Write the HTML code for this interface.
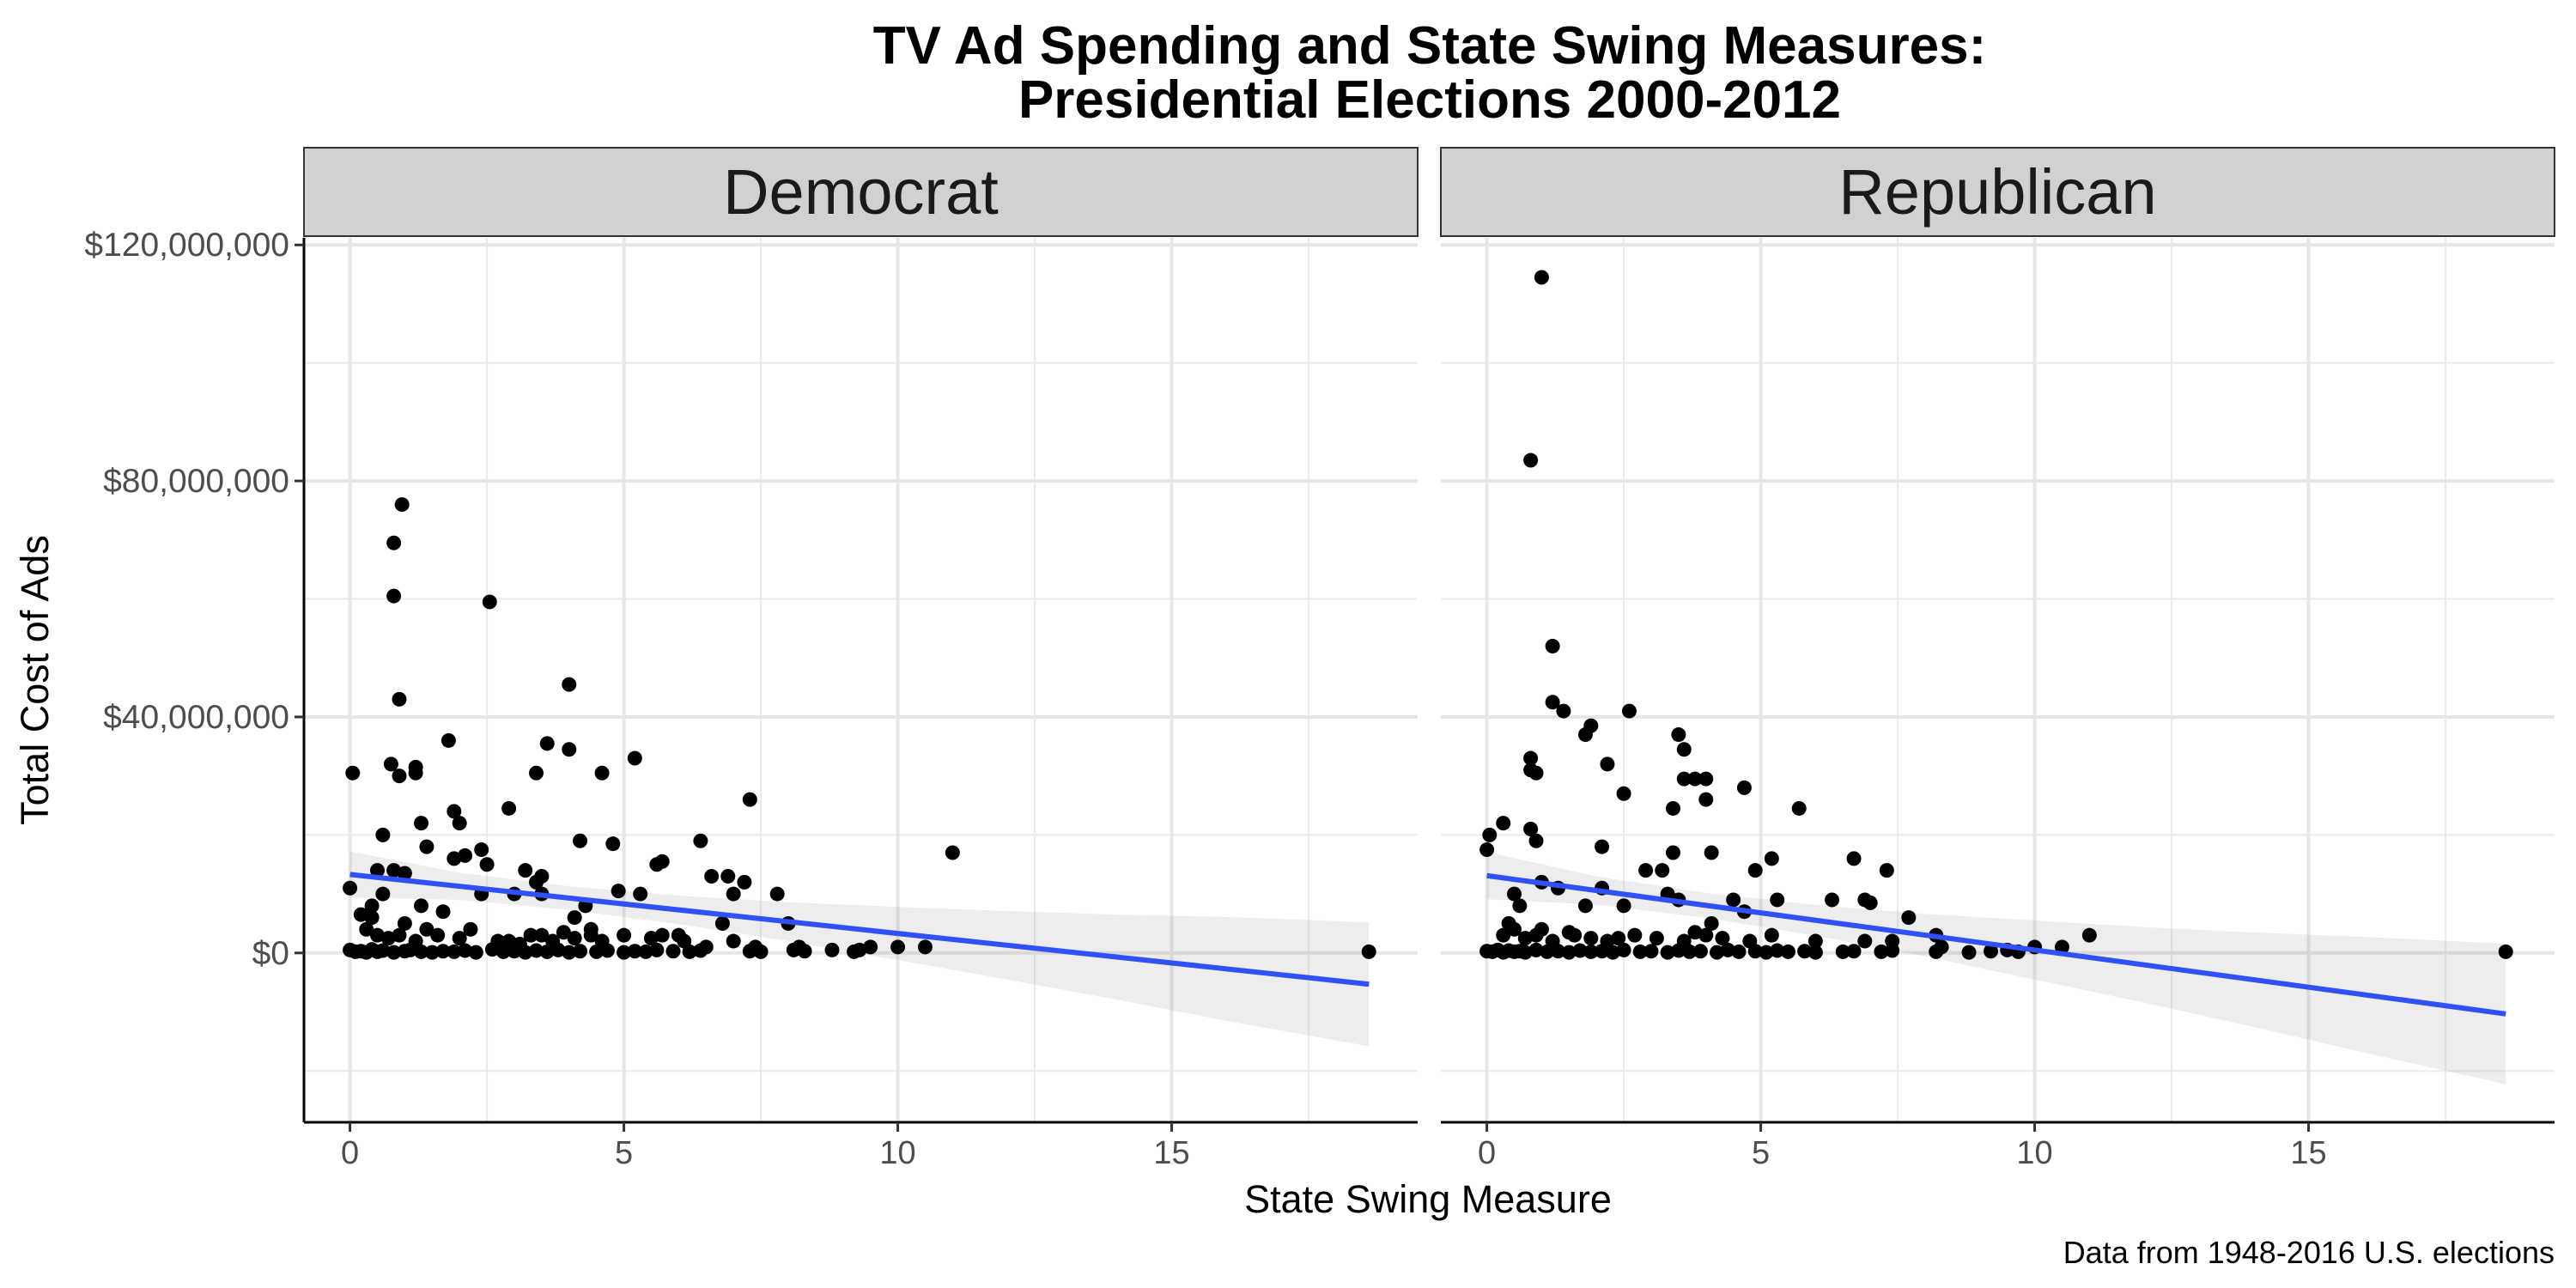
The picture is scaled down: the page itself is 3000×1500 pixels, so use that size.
<!DOCTYPE html>
<html><head><meta charset="utf-8"><style>
html,body{margin:0;padding:0;background:#fff;}
svg{display:block;font-family:"Liberation Sans",Arial,sans-serif;}
</style></head><body>
<svg id="chart" width="3000" height="1500" viewBox="0 0 3000 1500" xmlns="http://www.w3.org/2000/svg">
<rect width="3000" height="1500" fill="#fff"/>
<text x="1665" y="74" font-size="62" font-weight="bold" text-anchor="middle">TV Ad Spending and State Swing Measures:</text>
<text x="1665" y="137" font-size="62" font-weight="bold" text-anchor="middle">Presidential Elections 2000-2012</text>
<text x="1663" y="1412" font-size="45" text-anchor="middle">State Swing Measure</text>
<text transform="translate(56,792) rotate(-90)" font-size="45" text-anchor="middle">Total Cost of Ads</text>
<text x="2975" y="1471" font-size="36" text-anchor="end">Data from 1948-2016 U.S. elections</text>
<g id="plots"></g>
</svg>
<script>
const panelNames = ["Democrat","Republican"];
const xTicks = [0,5,10,15];
const xMinor = [2.5,7.5,12.5,17.5];
const yTicks = [0,40,80,120];
const yMinor = [-20,20,60,100];
const yTickLabels = ["$0","$40,000,000","$80,000,000","$120,000,000"];
// points: swing measure, cost in $M
const demX = [0.95,0.8,0.8,2.55,0.9,4,0.05,1.8,0.75,0.9,1.2,1.2,3.4,3.6,4,4.6,5.2,7.3,11,1.9,2.0,2.9,1.3,0.6,4.2,4.8,6.4,2.4,1.4,7.2,7.8,0.0,1.0,0.8,0.5,1.9,2.1,2.5,3.2,3.5,5.6,5.7,6.6,6.9,7.0,8.0,0.2,0.4,0.6,1.3,1.7,2.4,3.0,3.5,3.4,4.3,4.9,5.3,4.1,4.4,5.7,6.0,6.8,6.5,7.4,8.2,8.8,9.3,9.5,10.0,10.5,18.6,
 0.0,0.1,0.2,0.3,0.4,0.5,0.6,0.8,1.0,1.1,1.3,1.5,1.7,1.9,2.1,2.3,2.6,2.8,3.0,3.2,3.4,3.6,3.8,4.0,4.2,4.5,4.7,5.0,5.2,5.4,5.6,5.9,6.2,6.4,7.3,7.5,8.1,8.3,9.2,
 0.3,0.5,0.7,0.9,1.2,1.6,2.0,2.2,2.7,3.1,3.3,3.7,3.9,4.1,4.6,5.0,5.5,6.1,7.0,0.4,1.0,1.4,2.9,3.5,4.4];
const demY = [76,69.5,60.5,59.5,43,45.5,30.5,36,32,30,31.5,30.5,30.5,35.5,34.5,30.5,33,26,17,24,22,24.5,22,20,19,18.5,19,17.5,18,12,10,11,13.5,14,14,16,16.5,15,14,13,15,15.5,13,13,10,5,6.5,8,10,8,7,10,10,10,12,8,10.5,10,6,3,3,3,5,1,1,1,0.5,0.5,1,1,1,0.2,
 0.5,0.2,0.3,0.1,0.6,0.2,0.4,0.1,0.3,0.5,0.2,0.1,0.3,0.2,0.4,0.1,0.6,0.2,0.3,0.1,0.4,0.2,0.5,0.1,0.3,0.2,0.4,0.1,0.3,0.2,0.5,0.3,0.2,0.4,0.3,0.2,0.5,0.3,0.2,
 4,3,2.5,3,2,3,2.5,4,2,1.5,3,2,3.5,2.5,2,3,2.5,2,2,6,5,4,2,3,4];
const repX = [1.0,0.8,1.2,1.2,1.4,2.6,1.9,1.8,3.5,3.6,0.8,0.8,0.9,2.2,3.8,4.0,3.6,4.0,4.7,2.5,3.4,5.7,0.05,0.3,0.8,0.9,0.0,2.1,3.4,4.1,6.7,5.2,7.3,4.9,2.9,3.2,1.0,1.3,2.1,0.5,0.6,1.8,2.5,3.3,3.5,4.5,4.1,4.7,5.3,6.3,6.9,7.0,7.7,8.2,7.4,8.3,9.5,10.0,10.5,11.0,18.6,
 0.0,0.1,0.2,0.3,0.4,0.5,0.6,0.7,0.9,1.1,1.3,1.5,1.7,1.9,2.1,2.3,2.5,2.8,3.0,3.3,3.5,3.7,3.9,4.2,4.4,4.6,4.9,5.1,5.3,5.5,5.8,6.0,6.5,6.7,7.2,7.4,8.2,8.8,9.2,9.7,
 0.3,0.5,0.7,0.9,1.2,1.5,1.9,2.2,2.7,3.1,3.6,4.0,4.3,4.8,5.2,6.0,6.9,0.4,1.0,1.6,2.4,3.8];
const repY = [114.5,83.5,52,42.5,41,41,38.5,37,37,34.5,33,31,30.5,32,29.5,29.5,29.5,26,28,27,24.5,24.5,20,22,21,19,17.5,18,17,17,16,16,14,14,14,14,12,11,11,10,8,8,8,10,9,9,5,7,9,9,9,8.5,6,3,2,1,0.5,1,1,3,0.2,
 0.3,0.2,0.5,0.1,0.4,0.2,0.3,0.1,0.5,0.2,0.3,0.1,0.4,0.2,0.3,0.1,0.5,0.2,0.3,0.1,0.4,0.2,0.3,0.1,0.5,0.2,0.3,0.1,0.4,0.2,0.3,0.1,0.2,0.3,0.2,0.4,0.2,0.1,0.3,0.2,
 3,4,2.5,3,2,3.5,2.5,2,3,2.5,2,3,2.5,2,3,2,2,5,4,3,2.5,3.5];
// linear fit: intercept, slope ($M) and CI half-width at fitXs
const fitIntercept = [13.3, 13.1];
const fitSlope = [-1.0, -1.26];
const fitXs = [0,2,4,6,8,10,12,14,16,18.6];
const demHW = [3.9,2.3,2.0,2.4,3.3,4.5,5.8,7.2,8.8,10.5];
const repHW = [4.0,2.4,2.1,2.6,3.6,5.0,6.4,8.0,9.8,11.9];

const NS = "http://www.w3.org/2000/svg";
const panelLeft = [354, 1678], panelW = 1297, panelTop = 277, panelBot = 1307;
const xDomain = [-0.84, 19.49], yDomain = [-28.7, 121.2];
function mk(tag, attrs, parent){const e=document.createElementNS(NS,tag);for(const k in attrs)e.setAttribute(k,attrs[k]);parent.appendChild(e);return e;}
function xs(p,v){return panelLeft[p]+(v-xDomain[0])/(xDomain[1]-xDomain[0])*panelW;}
function ys(v){return panelBot-(v-yDomain[0])/(yDomain[1]-yDomain[0])*(panelBot-panelTop);}
const root=document.getElementById('plots');
const allX=[demX,repX], allY=[demY,repY], allHW=[demHW,repHW];
for(let p=0;p<2;p++){
  const g=mk('g',{},root);
  
  
  const L=panelLeft[p], R=L+panelW;
  const st=mk('rect',{x:L,y:172,width:panelW,height:103,fill:'#d1d1d1',stroke:'#333','stroke-width':2},g);
  
  
  const stt=mk('text',{x:L+panelW/2,y:249,'font-size':74,'text-anchor':'middle',fill:'#1a1a1a'},g);
  stt.textContent=panelNames[p];
  
  
  yMinor.forEach(v=>{const l=mk('line',{x1:L,x2:R,y1:ys(v),y2:ys(v),stroke:'#ebebeb','stroke-width':2},g);});
  xMinor.forEach(v=>{const l=mk('line',{x1:xs(p,v),x2:xs(p,v),y1:panelTop,y2:panelBot,stroke:'#ebebeb','stroke-width':2},g);});
  yTicks.forEach(v=>{const l=mk('line',{x1:L,x2:R,y1:ys(v),y2:ys(v),stroke:'#e6e6e6','stroke-width':4},g);});
  xTicks.forEach(v=>{const l=mk('line',{x1:xs(p,v),x2:xs(p,v),y1:panelTop,y2:panelBot,stroke:'#e6e6e6','stroke-width':4},g);});
  const hw=allHW[p];
  let up=fitXs.map((x,i)=>xs(p,x)+','+ys(fitIntercept[p]+fitSlope[p]*x+hw[i]));
  let lo=fitXs.map((x,i)=>xs(p,x)+','+ys(fitIntercept[p]+fitSlope[p]*x-hw[i])).reverse();
  const rib=mk('polygon',{points:up.concat(lo).join(' '),fill:'#999','fill-opacity':0.18},g);
  
  
  for(let i=0;i<allX[p].length;i++){
    const c=mk('circle',{cx:xs(p,allX[p][i]),cy:ys(allY[p][i]),r:8.5,fill:'#000'},g);
    
    
  }
  const x0=fitXs[0], x1=fitXs[fitXs.length-1];
  const fl=mk('line',{x1:xs(p,x0),y1:ys(fitIntercept[p]+fitSlope[p]*x0),x2:xs(p,x1),y2:ys(fitIntercept[p]+fitSlope[p]*x1),stroke:'#3050f8','stroke-width':6},g);
  
  
  const xa=mk('line',{x1:L,x2:R,y1:panelBot,y2:panelBot,stroke:'#000','stroke-width':3},g);
  
  
  xTicks.forEach(v=>{
    mk('line',{x1:xs(p,v),x2:xs(p,v),y1:panelBot,y2:panelBot+11,stroke:'#333','stroke-width':3},g);
    const t=mk('text',{x:xs(p,v),y:panelBot+48,'font-size':38,'text-anchor':'middle',fill:'#4d4d4d'},g);
    t.textContent=v;
    
    
  });
  if(p===0){
    const ya=mk('line',{x1:L,x2:L,y1:panelTop,y2:panelBot,stroke:'#000','stroke-width':3},g);
    
    
    yTicks.forEach((v,i)=>{
      mk('line',{x1:L-11,x2:L,y1:ys(v),y2:ys(v),stroke:'#333','stroke-width':3},g);
      const t=mk('text',{x:L-17,y:ys(v)+13,'font-size':39,'text-anchor':'end',fill:'#4d4d4d'},g);
      t.textContent=yTickLabels[i];
      
      
    });
  }
}
</script>
</body></html>
